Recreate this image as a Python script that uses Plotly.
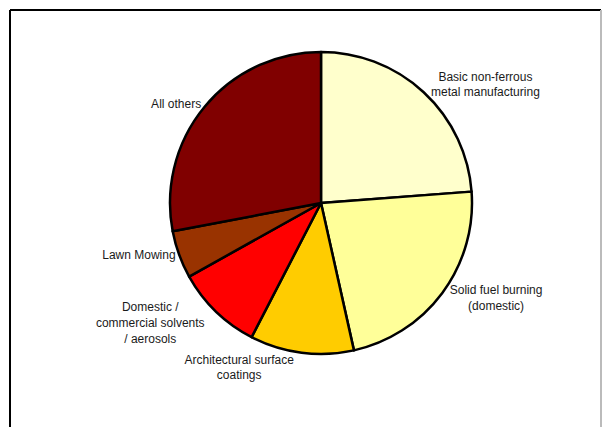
import plotly.graph_objects as go

labels = [
    "Basic non-ferrous<br>metal manufacturing",
    "Solid fuel burning<br>(domestic)",
    "Architectural surface<br>coatings",
    "Domestic /<br>commercial solvents<br>/ aerosols",
    "Lawn Mowing",
    "All others",
]
values = [23.8, 22.7, 11.1, 9.3, 5.1, 28.0]
colors = ["#FFFFCC", "#FFFF99", "#FFCC00", "#FF0000", "#993300", "#800000"]

W, H = 603, 427
cx, cy, r = 321, 203, 151

fig = go.Figure(go.Pie(
    labels=labels,
    values=values,
    sort=False,
    direction="clockwise",
    rotation=0,
    marker=dict(colors=colors, line=dict(color="black", width=2.5)),
    textinfo="label",
    textposition="outside",
    showlegend=False,
    hoverinfo="label+percent",
    textfont=dict(family="Liberation Sans, Arial, sans-serif", size=12, color="#1a1a1a"),
    domain=dict(x=[(cx - r) / W, (cx + r) / W], y=[(H - cy - r) / H, (H - cy + r) / H]),
))

fx0, fx1, fy0 = 10, 601, 10
fig.update_layout(
    width=W, height=H,
    margin=dict(l=0, r=0, t=0, b=0),
    paper_bgcolor="white",
    plot_bgcolor="white",
    shapes=[
        dict(type="line", xref="paper", yref="paper", x0=fx0 / W, x1=fx1 / W, y0=1 - fy0 / H, y1=1 - fy0 / H,
             line=dict(color="black", width=2)),
        dict(type="line", xref="paper", yref="paper", x0=fx0 / W, x1=fx0 / W, y0=1 - fy0 / H, y1=0,
             line=dict(color="black", width=2)),
        dict(type="line", xref="paper", yref="paper", x0=fx1 / W, x1=fx1 / W, y0=1 - fy0 / H, y1=0,
             line=dict(color="#BBBBBB", width=2)),
    ],
)

fig.write_html(
    "out.html",
    config={"displayModeBar": False},
    post_script="document.body.style.margin='0';document.body.style.overflow='hidden';",
)
